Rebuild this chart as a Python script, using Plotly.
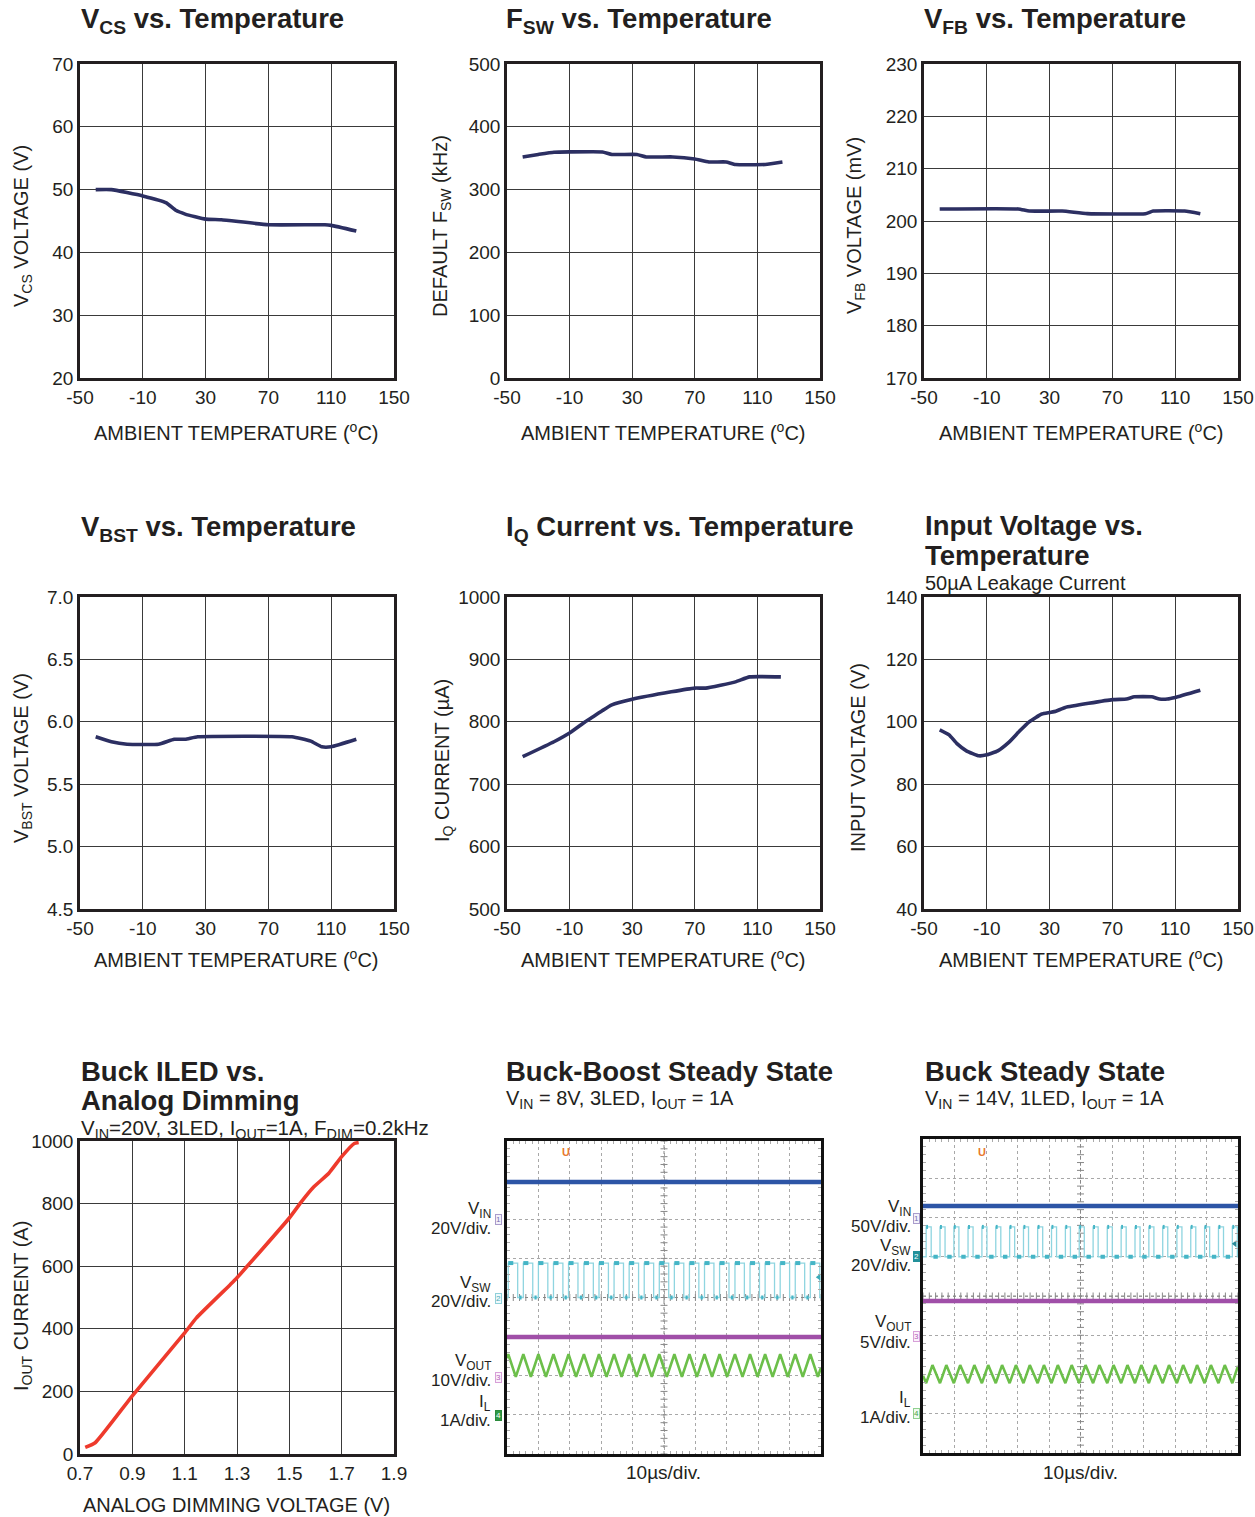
import plotly.graph_objects as go

W, H = 1255, 1517
OFF = 0
FONT = "Liberation Sans, Arial, Helvetica, sans-serif"
INK = "#231f20"
NAVY = "#2c2f62"
RED = "#ee3a2c"

# ---------------- data ----------------
temp_ticks = [-50, -10, 30, 70, 110, 150]

vcs_temp = [-40, -30, -10, 5, 11, 17, 30, 40, 70, 106, 110, 126]
vcs_volt = [50.0, 50.0, 49.0, 47.9, 46.7, 46.1, 45.3, 45.2, 44.4, 44.4, 44.3, 43.4]

fsw_temp = [-40, -30, -20, -10, 11, 17, 33, 39, 56, 70, 79, 90, 96, 115, 126]
fsw_khz = [352, 356, 359.5, 360, 360, 356, 356, 352, 352, 348.6, 344, 344, 340, 340, 344]

vfb_temp = [-40, 10, 17, 38, 54, 91, 96, 116, 126]
vfb_mv = [202.3, 202.3, 201.9, 201.9, 201.4, 201.4, 201.9, 201.9, 201.4]

vbst_temp = [-40, -30, -20, 0, 10, 17, 25, 85, 97, 104, 110, 126]
vbst_volt = [5.88, 5.84, 5.82, 5.82, 5.86, 5.86, 5.88, 5.88, 5.845, 5.80, 5.80, 5.86]

iq_temp = [-40, -20, -10, 0, 5, 11, 17, 30, 55, 70, 77, 96, 105, 125]
iq_ua = [744, 768, 782, 800, 808, 818, 827, 836, 848, 854, 854, 864, 872, 872]

vin_temp = [-40, -34, -29, -23, -15, -10, -3, 4, 11, 17, 25, 30, 34, 40, 70, 79, 84, 95, 100, 105, 110, 126]
vin_volt = [97.4, 95.8, 93.0, 90.7, 89.1, 89.4, 90.7, 93.4, 97.1, 100.0, 102.5, 103.0, 103.4, 104.6,
            107.1, 107.3, 108.0, 108.0, 107.3, 107.3, 107.8, 110.1]

dim_ticks = [0.7, 0.9, 1.1, 1.3, 1.5, 1.7, 1.9]
dim_volt = [0.72, 0.758, 0.9, 1.1, 1.145, 1.274, 1.3, 1.5, 1.548, 1.593, 1.651, 1.7, 1.748, 1.765]
dim_iout = [21, 36, 186, 387, 435, 541, 563, 754, 808, 853, 897, 950, 992, 995]

# scope traces, in divisions (x: 0..10 div, y: -4..4 div)
bb_vin = 2.95
bb_sw_hi, bb_sw_lo = 0.88, 0.0
bb_vout = -1.01
bb_il_hi, bb_il_lo = -1.45, -2.03
bb_sw_rise = [0.04, 0.52, 1.00, 1.48, 1.96, 2.45, 2.93, 3.41, 3.89, 4.37, 4.85,
              5.33, 5.81, 6.29, 6.77, 7.26, 7.74, 8.22, 8.70, 9.18, 9.66]
bb_sw_fall = [0.34, 0.82, 1.30, 1.78, 2.26, 2.75, 3.23, 3.71, 4.19, 4.67, 5.15,
              5.63, 6.11, 6.59, 7.07, 7.56, 8.04, 8.52, 9.00, 9.48, 9.96]
bb_il_peak_t = [0.04, 0.52, 1.00, 1.48, 1.96, 2.45, 2.93, 3.41, 3.89, 4.37, 4.85,
                5.33, 5.81, 6.29, 6.77, 7.26, 7.74, 8.22, 8.70, 9.18, 9.66]
bb_il_valley_t = [0.28, 0.76, 1.24, 1.72, 2.20, 2.69, 3.17, 3.65, 4.13, 4.61, 5.09,
                  5.57, 6.05, 6.53, 7.01, 7.50, 7.98, 8.46, 8.94, 9.42, 9.90]
bb_il_ends = [-1.55, -1.79]

bk_vin = 2.29
bk_sw_hi, bk_sw_lo = 1.76, 1.0
bk_vout = -0.13
bk_il_hi, bk_il_lo = -1.76, -2.22
bk_sw_rise = [0.10, 0.54, 0.98, 1.43, 1.87, 2.31, 2.75, 3.19, 3.64, 4.08, 4.52, 4.96,
              5.40, 5.85, 6.29, 6.73, 7.17, 7.61, 8.06, 8.50, 8.94, 9.38, 9.82]
bk_sw_fall = [0.26, 0.70, 1.14, 1.59, 2.03, 2.47, 2.91, 3.35, 3.80, 4.24, 4.68, 5.12,
              5.56, 6.01, 6.45, 6.89, 7.33, 7.77, 8.22, 8.66, 9.10, 9.54, 9.98]
bk_il_peak_t = [0.30, 0.74, 1.18, 1.63, 2.07, 2.51, 2.95, 3.39, 3.84, 4.28, 4.72,
                5.16, 5.60, 6.05, 6.49, 6.93, 7.37, 7.81, 8.26, 8.70, 9.14, 9.58]
bk_il_valley_t = [0.10, 0.54, 0.98, 1.43, 1.87, 2.31, 2.75, 3.19, 3.64, 4.08, 4.52, 4.96,
                  5.40, 5.85, 6.29, 6.73, 7.17, 7.61, 8.06, 8.50, 8.94, 9.38, 9.82]
bk_il_ends = [-2.03, -1.78]

# ---------------- helpers ----------------
def fx(p):
    return (p - OFF) / W


def fy(p):
    return 1 - (p - OFF) / H


cols_px = [(80, 394), (507, 820), (924, 1238)]
rows_px = [(64, 378), (597, 909), (1141, 1454)]
TICK = 19

fig = go.Figure()
layout = dict(width=W, height=H, margin=dict(l=0, r=0, t=0, b=0, pad=0), autosize=False,
              paper_bgcolor="white", plot_bgcolor="white", showlegend=False,
              font=dict(family=FONT, color=INK, size=17))

panels = [
    # (row, col, xrange, xticks, xfmt, yrange, ydtick, yfmt)
    (0, 0, [-50, 150], temp_ticks, "%g", [20, 70], 10, None),
    (0, 1, [-50, 150], temp_ticks, "%g", [0, 500], 100, None),
    (0, 2, [-50, 150], temp_ticks, "%g", [170, 230], 10, None),
    (1, 0, [-50, 150], temp_ticks, "%g", [4.5, 7.0], 0.5, ".1f"),
    (1, 1, [-50, 150], temp_ticks, "%g", [500, 1000], 100, None),
    (1, 2, [-50, 150], temp_ticks, "%g", [40, 140], 20, None),
    (2, 0, [0.7, 1.9], dim_ticks, "%.1f", [0, 1000], 200, None),
]

for i, (r, c, xr, xt, xfmt, yr, ydt, yfmt) in enumerate(panels, start=1):
    sfx = "" if i == 1 else str(i)
    l, rr = cols_px[c]
    t, b = rows_px[r]
    xa = dict(domain=[fx(l), fx(rr)], range=xr, tickmode="array", tickvals=xt,
              ticktext=[xfmt % v for v in xt], automargin=False,
              showgrid=True, gridcolor="#3a3a3a", gridwidth=1, zeroline=False,
              showline=True, mirror=True, linecolor=INK, linewidth=2.5,
              ticks="", tickfont=dict(size=TICK, color=INK), anchor="y" + sfx,
              fixedrange=True)
    ya = dict(domain=[fy(b), fy(t)], range=yr, dtick=ydt, tick0=yr[0], automargin=False,
              showgrid=True, gridcolor="#3a3a3a", gridwidth=1, zeroline=False,
              showline=True, mirror=True, linecolor=INK, linewidth=2.5,
              ticks="", tickfont=dict(size=TICK, color=INK), anchor="x" + sfx,
              fixedrange=True)
    if yfmt:
        ya["tickformat"] = yfmt
    layout["xaxis" + sfx] = xa
    layout["yaxis" + sfx] = ya

# scope axes 8, 9
scope_boxes = {8: (507, 821, 1141, 1454), 9: (923, 1238, 1139, 1453)}
for i, (l, rr, t, b) in scope_boxes.items():
    sfx = str(i)
    common = dict(showgrid=True, gridcolor="#a8a8a8", gridwidth=1, griddash="dot",
                  zeroline=False, showline=True, mirror="allticks", linecolor="#111",
                  linewidth=2.5, showticklabels=False, ticks="", dtick=1, automargin=False,
                  minor=dict(ticks="inside", ticklen=3, dtick=0.2, tickcolor="#aaa",
                             showgrid=False), fixedrange=True)
    layout["xaxis" + sfx] = dict(domain=[fx(l), fx(rr)], range=[0, 10], tick0=0,
                                 anchor="y" + sfx, **common)
    layout["yaxis" + sfx] = dict(domain=[fy(b), fy(t)], range=[-4, 4], tick0=-4,
                                 anchor="x" + sfx, **common)

# ---------------- curve traces ----------------
curves = [
    (vcs_temp, vcs_volt, 1, NAVY),
    (fsw_temp, fsw_khz, 2, NAVY),
    (vfb_temp, vfb_mv, 3, NAVY),
    (vbst_temp, vbst_volt, 4, NAVY),
    (iq_temp, iq_ua, 5, NAVY),
    (vin_temp, vin_volt, 6, NAVY),
    (dim_volt, dim_iout, 7, RED),
]
for xs, ys, i, col in curves:
    sfx = "" if i == 1 else str(i)
    fig.add_trace(go.Scatter(x=xs, y=ys, mode="lines", xaxis="x" + sfx, yaxis="y" + sfx,
                             line=dict(color=col, width=3.6, shape="spline", smoothing=0.4),
                             hoverinfo="skip"))


# ---------------- scope traces ----------------
def square_wave(rise, fall, lo, hi):
    xs, ys = [0.0], [lo]
    for a, b in zip(rise, fall):
        xs += [a, a, b, b]
        ys += [lo, hi, hi, lo]
    xs.append(10.0)
    ys.append(lo)
    return xs, ys


def tri_wave(peaks, valleys, hi, lo, ends):
    pts = [(t, hi) for t in peaks] + [(t, lo) for t in valleys]
    pts.sort()
    xs = [0.0] + [p[0] for p in pts] + [10.0]
    ys = [ends[0]] + [p[1] for p in pts] + [ends[1]]
    return xs, ys


def add_scope(ax, vin, sw_rise, sw_fall, sw_lo, sw_hi, vout, il_peaks, il_valleys,
              il_hi, il_lo, il_ends, hi_dash, lo_dash):
    xa, ya = "x" + ax, "y" + ax
    # centre cross-hair
    fig.add_trace(go.Scatter(x=[5, 5], y=[-4, 4], mode="lines", xaxis=xa, yaxis=ya,
                             line=dict(color="#888", width=1, dash="dot"), hoverinfo="skip"))
    fig.add_trace(go.Scatter(x=[0, 10], y=[0, 0], mode="lines", xaxis=xa, yaxis=ya,
                             line=dict(color="#888", width=1, dash="dot"), hoverinfo="skip"))
    fig.add_trace(go.Scatter(x=[5] * 41, y=[-4 + 0.2 * k for k in range(41)], mode="markers",
                             xaxis=xa, yaxis=ya, hoverinfo="skip",
                             marker=dict(symbol="line-ew", size=5, line=dict(color="#888", width=1))))
    fig.add_trace(go.Scatter(x=[0.2 * k for k in range(51)], y=[0] * 51, mode="markers",
                             xaxis=xa, yaxis=ya, hoverinfo="skip",
                             marker=dict(symbol="line-ns", size=5, line=dict(color="#888", width=1))))
    # VIN
    fig.add_trace(go.Scatter(x=[0, 10], y=[vin, vin], mode="lines", xaxis=xa, yaxis=ya,
                             line=dict(color="#2d55a6", width=4.5), hoverinfo="skip"))
    # VSW
    sx, sy = square_wave(sw_rise, sw_fall, sw_lo, sw_hi)
    fig.add_trace(go.Scatter(x=sx, y=sy, mode="lines", xaxis=xa, yaxis=ya,
                             line=dict(color="#8fd5e0", width=1.3), hoverinfo="skip"))
    dx, dy = [], []
    for a, b in zip(sw_rise, sw_fall):
        dx += [a, min(a + hi_dash, b), None]
        dy += [sw_hi, sw_hi, None]
    nxt = sw_rise[1:] + [10.0 + sw_rise[0]]
    for b, n in zip(sw_fall, nxt):
        m = (b + n) / 2
        if m + lo_dash / 2 <= 10:
            dx += [m - lo_dash / 2, m + lo_dash / 2, None]
            dy += [sw_lo, sw_lo, None]
    fig.add_trace(go.Scatter(x=dx, y=dy, mode="lines", xaxis=xa, yaxis=ya,
                             line=dict(color="#45b5c6", width=4), hoverinfo="skip"))
    # VOUT
    fig.add_trace(go.Scatter(x=[0, 10], y=[vout, vout], mode="lines", xaxis=xa, yaxis=ya,
                             line=dict(color="#a04fa8", width=4.5), hoverinfo="skip"))
    # IL
    tx, ty = tri_wave(il_peaks, il_valleys, il_hi, il_lo, il_ends)
    fig.add_trace(go.Scatter(x=tx, y=ty, mode="lines", xaxis=xa, yaxis=ya,
                             line=dict(color="#6cbf4a", width=2.6), hoverinfo="skip"))


add_scope("8", bb_vin, bb_sw_rise, bb_sw_fall, bb_sw_lo, bb_sw_hi, bb_vout,
          bb_il_peak_t, bb_il_valley_t, bb_il_hi, bb_il_lo, bb_il_ends, 0.16, 0.07)
add_scope("9", bk_vin, bk_sw_rise, bk_sw_fall, bk_sw_lo, bk_sw_hi, bk_vout,
          bk_il_peak_t, bk_il_valley_t, bk_il_hi, bk_il_lo, bk_il_ends, 0.06, 0.14)

# trigger-level arrows at right edge
fig.add_trace(go.Scatter(x=[9.93], y=[0.52], mode="markers", xaxis="x8", yaxis="y8",
                         marker=dict(symbol="triangle-left", size=6, color="#3aaab8"), hoverinfo="skip"))
fig.add_trace(go.Scatter(x=[9.9], y=[1.33], mode="markers", xaxis="x9", yaxis="y9",
                         marker=dict(symbol="triangle-left", size=6, color="#2a8a98"), hoverinfo="skip"))

# ---------------- text ----------------
ann = []


def text(s, x, y, size=17, bold=False, xanchor="left", yanchor="middle", angle=0, color=INK):
    if bold:
        s = "<b>" + s + "</b>"
    ann.append(dict(text=s, x=fx(x), y=fy(y), xref="paper", yref="paper", showarrow=False,
                    xanchor=xanchor, yanchor=yanchor, textangle=angle,
                    font=dict(family=FONT, size=size, color=color)))


TS = 27.5
SUB = 20
AX = 20
text("V<sub>CS</sub> vs. Temperature", 79, 21, TS, True)
text("F<sub>SW</sub> vs. Temperature", 504, 21, TS, True)
text("V<sub>FB</sub> vs. Temperature", 922, 21, TS, True)
text("V<sub>BST</sub> vs. Temperature", 79, 528, TS, True)
text("I<sub>Q</sub> Current vs. Temperature", 504, 528, TS, True)
text("Input Voltage vs.", 923, 526, TS, True)
text("Temperature", 923, 556, TS, True)
text("50µA Leakage Current", 923, 583, SUB)
text("Buck ILED vs.", 79, 1071, TS, True)
text("Analog Dimming", 79, 1100, TS, True)
text("V<sub>IN</sub>=20V, 3LED, I<sub>OUT</sub>=1A, F<sub>DIM</sub>=0.2kHz", 79, 1129, 20.5)
text("Buck-Boost Steady State", 504, 1071, TS, True)
text("V<sub>IN</sub> = 8V, 3LED, I<sub>OUT</sub> = 1A", 504, 1099, SUB)
text("Buck Steady State", 923, 1071, TS, True)
text("V<sub>IN</sub> = 14V, 1LED, I<sub>OUT</sub> = 1A", 923, 1099, SUB)

AT = "AMBIENT TEMPERATURE (<sup>o</sup>C)"
for cx, cy in [(237, 431), (663, 431), (1081, 431), (237, 958), (663, 958), (1081, 958)]:
    text(AT, cx, cy, AX, xanchor="center")
text("ANALOG DIMMING VOLTAGE (V)", 237, 1505, AX, xanchor="center")
text("10µs/div.", 664, 1472, 19, xanchor="center")
text("10µs/div.", 1080, 1472, 19, xanchor="center")

text("V<sub>CS</sub> VOLTAGE (V)", 22, 226, AX, xanchor="center", angle=-90)
text("DEFAULT F<sub>SW</sub> (kHz)", 441, 226, AX, xanchor="center", angle=-90)
text("V<sub>FB</sub> VOLTAGE (mV)", 855, 225, AX, xanchor="center", angle=-90)
text("V<sub>BST</sub> VOLTAGE (V)", 22, 758, AX, xanchor="center", angle=-90)
text("I<sub>Q</sub> CURRENT (µA)", 443, 760, AX, xanchor="center", angle=-90)
text("INPUT VOLTAGE (V)", 858, 758, AX, xanchor="center", angle=-90)
text("I<sub>OUT</sub> CURRENT (A)", 22, 1306, AX, xanchor="center", angle=-90)

# scope channel labels
SL = 17
for s, y in [("V<sub>IN</sub>", 1210), ("20V/div.", 1228), ("V<sub>SW</sub>", 1284),
             ("20V/div.", 1301), ("V<sub>OUT</sub>", 1362), ("10V/div.", 1380),
             ("I<sub>L</sub>", 1403), ("1A/div.", 1420)]:
    text(s, 493, y, SL, xanchor="right")
for s, y in [("V<sub>IN</sub>", 1208), ("50V/div.", 1226), ("V<sub>SW</sub>", 1247),
             ("20V/div.", 1265), ("V<sub>OUT</sub>", 1323), ("5V/div.", 1342),
             ("I<sub>L</sub>", 1399), ("1A/div.", 1417)]:
    text(s, 913, y, SL, xanchor="right")


def chan(label, x, y, border, bg, fg):
    ann.append(dict(text=label, x=fx(x), y=fy(y), xref="paper", yref="paper", showarrow=False,
                    xanchor="center", yanchor="middle", bordercolor=border, borderwidth=1,
                    borderpad=0, bgcolor=bg, font=dict(family=FONT, size=8, color=fg)))


chan("1", 498, 1219, "#a99ccc", "#f4f2fa", "#7a6fb0")
chan("2", 498, 1298, "#8fd0da", "#eefafc", "#4aaab8")
chan("3", 498, 1377, "#d7a0d8", "#fbf1fb", "#b060b8")
chan("4", 498, 1415, "#2b8a3c", "#2f9a45", "white")
chan("1", 916, 1218, "#a99ccc", "#f4f2fa", "#7a6fb0")
chan("2", 916, 1256, "#23919a", "#23919a", "white")
chan("3", 916, 1336, "#d7a0d8", "#fbf1fb", "#b060b8")
chan("4", 916, 1413, "#8fd08f", "#f0faf0", "#4aa04a")

for x in (566, 982):
    ann.append(dict(text="<b>U</b>", x=fx(x), y=fy(1152), xref="paper", yref="paper",
                    showarrow=False, xanchor="center", yanchor="middle",
                    font=dict(family=FONT, size=11, color="#e8782c")))

layout["annotations"] = ann
fig.update_layout(**layout)
# remove the default page margin so the 1255x1517 figure fills the window exactly
fig.write_html("out.html", config={"displayModeBar": False},
               post_script="document.body.style.margin='0';")
